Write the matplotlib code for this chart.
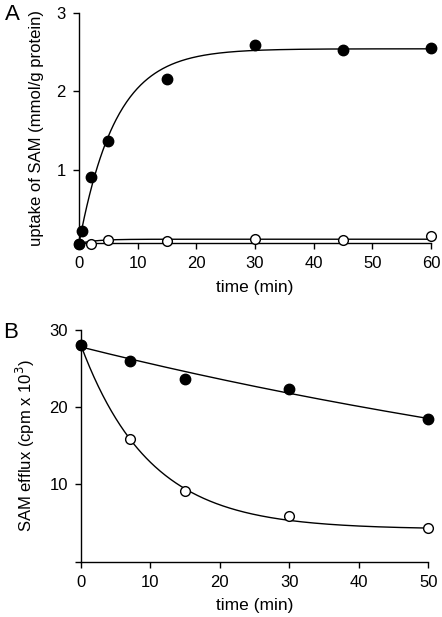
import numpy as np
import matplotlib
matplotlib.use("Agg")
import matplotlib.pyplot as plt

plt.rcParams['font.family'] = ['Liberation Sans', 'DejaVu Sans']

# Panel A: uptake of SAM
a_time_filled = [0, 0.5, 2, 5, 15, 30, 45, 60]
a_uptake_filled = [0.06, 0.22, 0.91, 1.37, 2.15, 2.59, 2.53, 2.55]
a_time_open = [0, 2, 5, 15, 30, 45, 60]
a_uptake_open = [0.06, 0.06, 0.10, 0.09, 0.12, 0.11, 0.16]
# fitted curve parameters (y = y0 + amp*(1-exp(-k t)))
a_fit_filled = (0.06, 2.48, 0.16)
a_fit_open = (0.06, 0.055, 0.35)

# Panel B: SAM efflux
b_time = [0, 7, 15, 30, 50]
b_efflux_filled = [28.0, 26.0, 23.6, 22.3, 18.5]
b_efflux_open = [28.0, 15.9, 9.1, 5.9, 4.3]
# fitted curve parameters (y = c + (y0-c)*exp(-k t))
b_fit_filled = (0.0, 27.8, 0.0081)
b_fit_open = (4.2, 28.0, 0.101)

W, H = 442, 617
fig = plt.figure(figsize=(W / 100, H / 100), dpi=100)

fs = 12

def style(ax):
    ax.spines['top'].set_visible(False)
    ax.spines['right'].set_visible(False)
    ax.tick_params(direction='out', length=4.5, width=1, labelsize=fs, pad=5)
    for s in ['left', 'bottom']:
        ax.spines[s].set_linewidth(1)

# Panel A
axA = fig.add_axes([79 / W, 1 - 243.3 / H, 352 / W, 230.6 / H])
t = np.linspace(0, 60, 400)
y0, amp, k = a_fit_filled
axA.plot(t, y0 + amp * (1 - np.exp(-k * t)), color='black', lw=1)
y0, amp, k = a_fit_open
axA.plot(t, y0 + amp * (1 - np.exp(-k * t)), color='black', lw=1)
axA.plot(a_time_open, a_uptake_open, 'o', ms=7, mfc='white', mec='black', mew=1, clip_on=False, zorder=3)
axA.plot(a_time_filled, a_uptake_filled, 'o', ms=7.5, mfc='black', mec='black', clip_on=False, zorder=4)
axA.set_xlim(0, 60)
axA.set_ylim(0.063, 3)
axA.set_xticks(range(0, 61, 10))
axA.set_yticks([1, 2, 3])
axA.set_xlabel('time (min)', fontsize=fs + 0.5, labelpad=6)
axA.set_ylabel('uptake of SAM (mmol/g protein)', fontsize=fs, labelpad=9)
style(axA)
fig.text(5 / W, 1 - 15 / H, 'A', fontsize=16, va='center', ha='left')

# Panel B
axB = fig.add_axes([81 / W, 1 - 561.7 / H, 347.3 / W, 231.7 / H])
t = np.linspace(0, 50, 400)
c, y0, k = b_fit_filled
axB.plot(t, c + (y0 - c) * np.exp(-k * t), color='black', lw=1)
c, y0, k = b_fit_open
axB.plot(t, c + (y0 - c) * np.exp(-k * t), color='black', lw=1)
axB.plot(b_time, b_efflux_open, 'o', ms=7, mfc='white', mec='black', mew=1, clip_on=False, zorder=3)
axB.plot(b_time, b_efflux_filled, 'o', ms=7.5, mfc='black', mec='black', clip_on=False, zorder=4)
axB.set_xlim(0, 50)
axB.set_ylim(0, 30)
axB.set_xticks(range(0, 51, 10))
axB.set_yticks([0, 10, 20, 30])
axB.set_yticklabels(['', '10', '20', '30'])
axB.set_xlabel('time (min)', fontsize=fs + 0.5, labelpad=6)
axB.set_ylabel('SAM efflux (cpm x 10$^3$)', fontsize=fs, labelpad=9)
style(axB)
fig.text(3 / W, 1 - 333 / H, 'B', fontsize=16, va='center', ha='left')

fig.savefig('out.png', dpi=100)
